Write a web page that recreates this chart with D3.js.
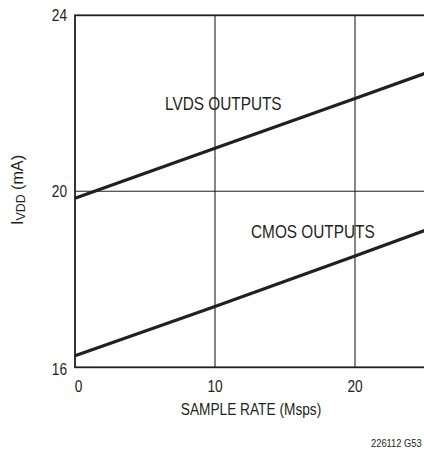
<!DOCTYPE html>
<html>
<head>
<meta charset="utf-8">
<script src="https://cdn.jsdelivr.net/npm/d3@7"></script>
<style>
  body { margin: 0; background: #fff; }
  svg { display: block; }
  text { font-family: "Liberation Sans", Arial, sans-serif; fill: #231f20; }
</style>
</head>
<body>
<svg id="chart" width="424" height="451"></svg>
<script>
// sample rate (Msps)
const sampleRate = [0, 10, 20, 25];
// supply current (mA)
const lvdsCurrent = [19.84, 20.98, 22.11, 22.68];
const cmosCurrent = [16.26, 17.38, 18.53, 19.11];
const xTicks = [0, 10, 20];
const yTicks = [16, 20, 24];

const svg = d3.select("#chart");
const ink = "#231f20";
const narrow = 0.83; // squeeze to look like a condensed face

const x = d3.scaleLinear().domain([0, 25]).range([75, 425]);
const y = d3.scaleLinear().domain([16, 24]).range([367.3, 15.3]);

// condensed text helper
function label(px, py, str, size, anchor, rot, sx) {
  const g = svg.append("g")
    .attr("transform", `translate(${px},${py})` + (rot ? ` rotate(${rot})` : "") + ` scale(${sx || narrow},1)`);
  return g.append("text")
    .attr("text-anchor", anchor || "start")
    .attr("font-size", size)
    .text(str);
}

// grid
svg.append("g")
  .selectAll("line")
  .data(xTicks.filter(d => d > 0))
  .join("line")
  .attr("x1", d => x(d)).attr("x2", d => x(d))
  .attr("y1", y(24)).attr("y2", y(16))
  .attr("stroke", ink).attr("stroke-width", 1.1);

svg.append("g")
  .selectAll("line")
  .data(yTicks.filter(d => d > 16 && d < 24))
  .join("line")
  .attr("x1", x(0)).attr("x2", x(25))
  .attr("y1", d => y(d)).attr("y2", d => y(d))
  .attr("stroke", ink).attr("stroke-width", 1.1);

// frame
svg.append("rect")
  .attr("x", x(0)).attr("y", y(24))
  .attr("width", x(25) - x(0)).attr("height", y(16) - y(24))
  .attr("fill", "none").attr("stroke", ink).attr("stroke-width", 1.8);

// data lines
const line = d3.line().x((d, i) => x(sampleRate[i])).y(d => y(d));
[lvdsCurrent, cmosCurrent].forEach(s => {
  svg.append("path")
    .attr("d", line(s))
    .attr("fill", "none")
    .attr("stroke", ink)
    .attr("stroke-width", 3.2);
});

// tick labels
xTicks.forEach(d => label(x(d) + (d === 0 ? 3.5 : 0), 392, d, 16.5, "middle"));
yTicks.forEach(d => label(67, y(d) + 6 + (d === 16 ? 2 : 0), d, 16.5, "end"));

// series labels
label(165, 110, "LVDS OUTPUTS", 18.5);
label(251, 238, "CMOS OUTPUTS", 18.5);

// axis titles
label(251, 415, "SAMPLE RATE (Msps)", 16.5, "middle");

const yt = label(22.5, 190, "I", 17, "middle", -90, 0.95);
yt.append("tspan").attr("font-size", 13).attr("dy", 2).text("VDD");
yt.append("tspan").attr("dy", -2).text(" (mA)");

label(371, 447, "226112 G53", 11, "start", 0, 0.85);
</script>
</body>
</html>
